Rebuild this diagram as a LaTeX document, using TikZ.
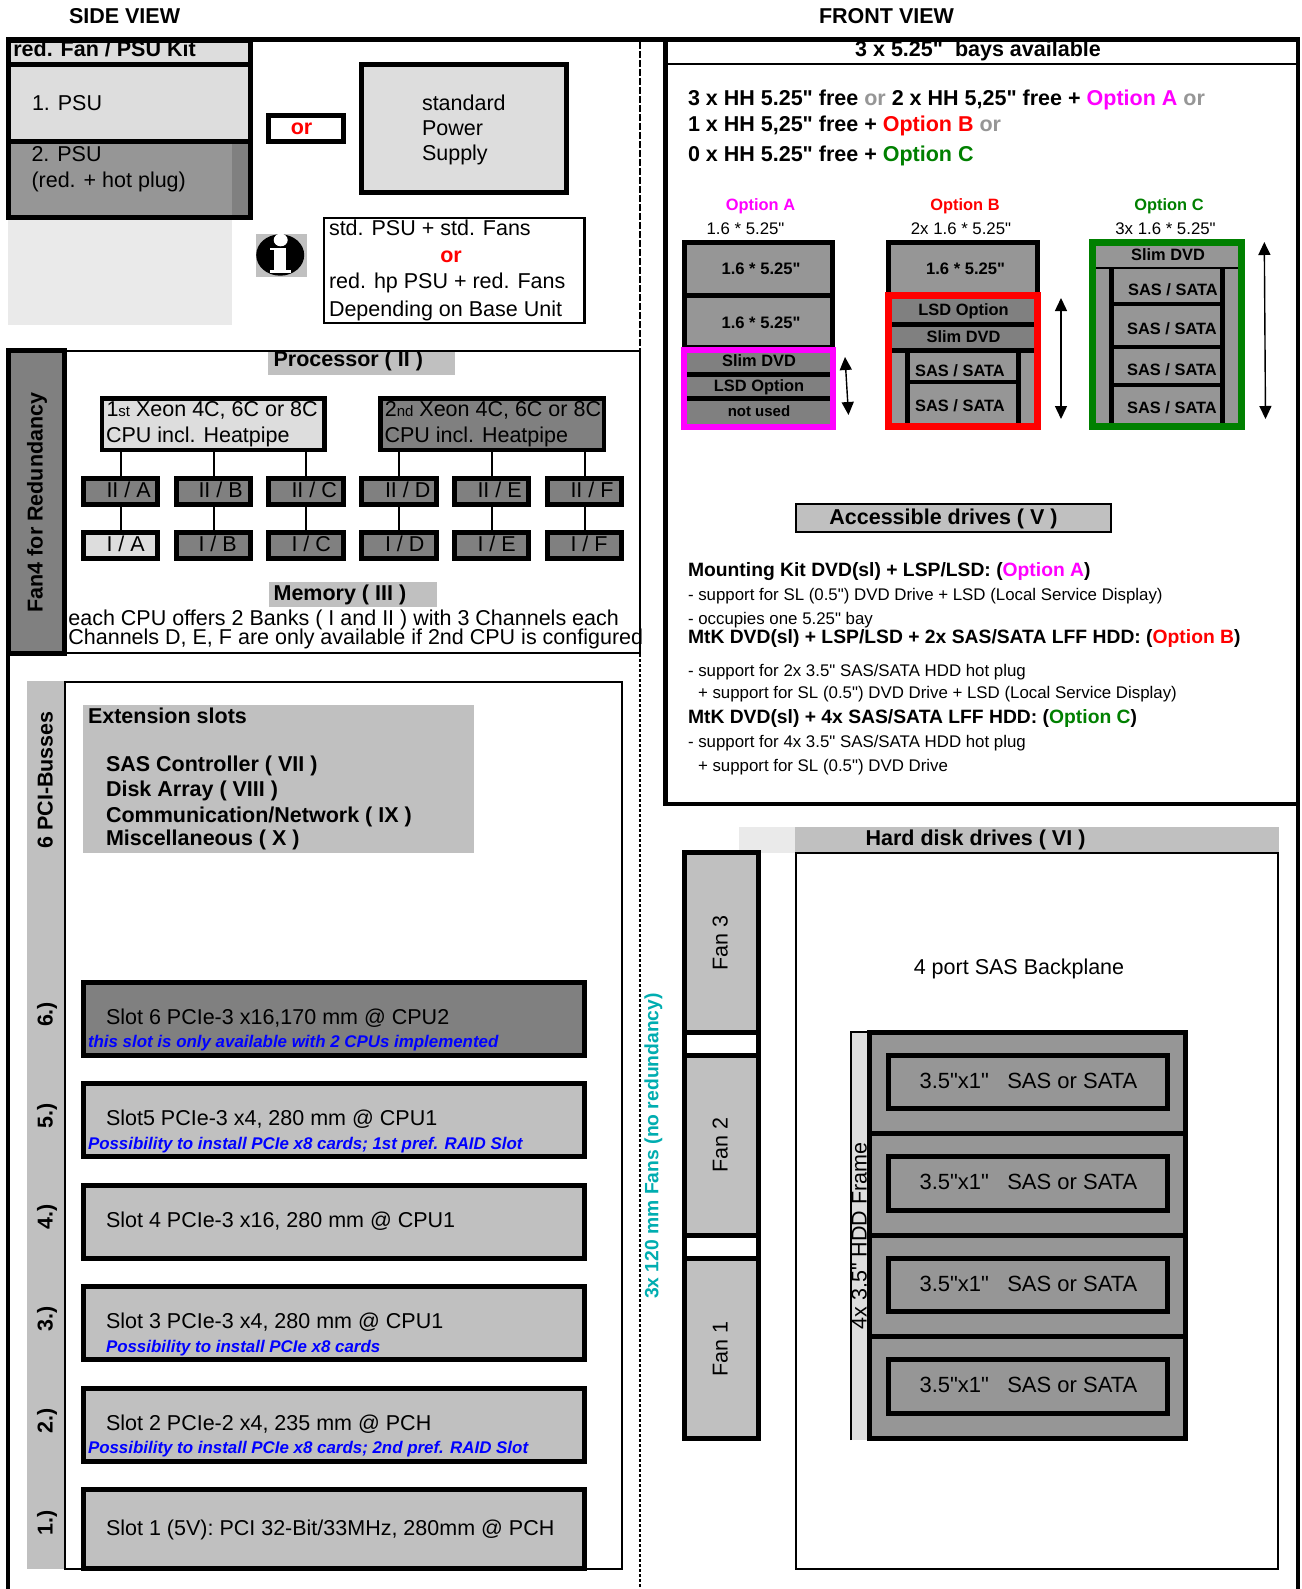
\documentclass[tikz,border=0pt]{standalone}
\usepackage{fontspec}
\newfontfamily\lib{Liberation Sans}
\usetikzlibrary{arrows.meta}
\definecolor{gl}{HTML}{DDDDDD}
\definecolor{gx}{HTML}{EAEAEA}
\definecolor{gm}{HTML}{C0C0C0}
\definecolor{gd}{HTML}{969696}
\definecolor{gk}{HTML}{808080}
\definecolor{optA}{HTML}{FF00FF}
\definecolor{optB}{HTML}{FF0000}
\definecolor{optC}{HTML}{008000}
\definecolor{teal2}{HTML}{00ADB0}
\definecolor{blue2}{HTML}{0000FF}
\newcommand{\fs}[1]{\lib\fontsize{#1}{#1}\selectfont}
\newcounter{tn}
\tikzset{
 boxy/.style={draw=black,inner sep=0pt,outer sep=0pt},
 txt/.style={inner sep=0pt,outer sep=0pt,text=black},
 dbl/.style={line width=1.4pt,{Triangle[width=12pt,length=13pt]}-{Triangle[width=12pt,length=13pt]}},
 link/.style={line width=2pt},
}
% name x1 y1 x2 y2 fill lw : outer edges given
\newcommand{\BX}[7]{\pgfmathsetmacro\cxx{(#2+#4)/2}\pgfmathsetmacro\cyy{(#3+#5)/2}\pgfmathsetmacro\ww{#4-#2-#7}\pgfmathsetmacro\hh{#5-#3-#7}\node[boxy,line width=#7pt,fill=#6,minimum width=\ww pt,minimum height=\hh pt] (#1) at (\cxx,\cyy) {};}
\newcommand{\R}[5]{\fill[#5] (#1,#2) rectangle (#3,#4);}
\newcommand{\TL}[5][]{\stepcounter{tn}\pgfmathsetmacro\yb{#3+0.35*#4}\node[txt,anchor=base west,font={\fs{#4}},#1] (t\arabic{tn}) at (#2,\yb) {#5};}
\newcommand{\TC}[5][]{\stepcounter{tn}\pgfmathsetmacro\yb{#3+0.35*#4}\node[txt,anchor=base,font={\fs{#4}},#1] (t\arabic{tn}) at (#2,\yb) {#5};}
\newcommand{\TR}[5][]{\stepcounter{tn}\pgfmathsetmacro\xb{#2+0.35*#4}\node[txt,anchor=base,rotate=90,font={\fs{#4}},#1] (t\arabic{tn}) at (\xb,#3) {#5};}
\begin{document}
\begin{tikzpicture}[x=1pt,y=-1pt]
\useasboundingbox (0,0) rectangle (1301,1589);
\fill[white] (0,0) rectangle (1301,1589);
% titles
\TL[font={\fs{21.5}\bfseries}]{69}{15.5}{21.5}{SIDE VIEW}
\TL[font={\fs{21.5}\bfseries}]{819}{15.5}{21.5}{FRONT VIEW}
% PSU column
\R{7.5}{220}{232}{325}{gx}
\BX{kit}{6}{38}{253}{66.7}{gl}{4.7}
\TL[font={\fs{21.5}\bfseries}]{13.3}{49}{21.5}{red. Fan / PSU Kit}
\BX{psua}{6}{62}{253}{144}{gl}{4.7}
\BX{psub}{6}{139.3}{253}{220}{gd}{4.7}
\R{232}{144}{248.3}{215.3}{gk}
\TL{32}{103}{21.5}{1. PSU}
\TL{31.5}{153.5}{21.5}{2. PSU}
\TL{31.5}{180}{21.5}{(red. + hot plug)}
\BX{orbox}{266}{113}{346}{144}{white}{4.7}
\TC[font={\fs{21.5}\bfseries}]{301.5}{127.2}{21.5}{\textcolor{optB}{or}}
\BX{stdpsu}{359}{62}{569}{195}{gl}{4.9}
\TL{422}{103}{21.5}{standard}
\TL{422}{128.2}{21.5}{Power}
\TL{422}{153.2}{21.5}{Supply}
% info icon
\R{256}{234}{306.7}{276.7}{gm}
\fill[black] (280.2,255) ellipse [x radius=24,y radius=20.7];
\fill[white] (280.7,240) ellipse [x radius=7,y radius=6.3];
\R{270}{247.7}{286}{250.5}{white}
\R{274.3}{247.7}{285.7}{270.5}{white}
\R{270}{270}{290.7}{272.5}{white}
\BX{note}{323}{217}{585.5}{324}{white}{2.2}
\TL{329}{228}{21.5}{std. PSU + std. Fans}
\TC[font={\fs{21.5}\bfseries}]{451}{255}{21.5}{\textcolor{optB}{or}}
\TL{329}{281}{21.5}{red. hp PSU + red. Fans}
\TL{329}{309}{21.5}{Depending on Base Unit}
% divider
\draw[line width=2pt,dash pattern=on 7pt off 2pt] (640,42) -- (640,350);
\draw[line width=2pt] (640,350) -- (640,654);
\draw[line width=2pt,dash pattern=on 2.5pt off 2.5pt] (640,654) -- (640,1589);
% processor section
\draw[line width=2pt] (67,351) -- (640,351);
\draw[line width=2pt] (67,653) -- (640,653);
\R{268}{352}{455}{374.7}{gm}
\TL[font={\fs{21.5}\bfseries}]{273.6}{359}{21.5}{Processor ( II )}
\BX{cpua}{99.5}{396}{326.7}{452}{gl}{4.5}
\BX{cpub}{378}{396}{606}{452}{gk}{4.5}
\TL{106.5}{409.3}{21.5}{1{\fs{15}st} Xeon 4C, 6C or 8C}
\TL{106}{435}{21.5}{CPU incl. Heatpipe}
\TL{384.8}{409.3}{21.5}{2{\fs{15}nd} Xeon 4C, 6C or 8C}
\TL{384.5}{435}{21.5}{CPU incl. Heatpipe}
\foreach \nm/\xa/\xb/\tx in {A/81/160/106.5,B/174/253/198.5,C/266/346/291.5,D/359/439/385,E/452/531/477.5,F/545/624/570.5}{
 \BX{II\nm}{\xa}{476}{\xb}{506.7}{gk}{4.8}
 \BX{I\nm}{\xa}{530}{\xb}{561}{gk}{4.8}
 \TL{\tx}{489.8}{21.5}{II / \nm}
 \TL{\tx}{543.5}{21.5}{I / \nm}
}
\BX{IA}{81}{530}{160}{561}{gl}{4.8}
\TL{106.5}{543.5}{21.5}{I / A}
\foreach \nm in {A,B,C}{\draw[link] (II\nm.north) -- (II\nm.north |- cpua.south);\draw[link] (I\nm.north) -- (II\nm.south);}
\foreach \nm in {D,E,F}{\draw[link] (II\nm.north) -- (II\nm.north |- cpub.south);\draw[link] (I\nm.north) -- (II\nm.south);}
\R{269}{582}{437}{606.7}{gm}
\TL[font={\fs{21.5}\bfseries}]{273.6}{593.3}{21.5}{Memory ( III )}
\TL{68.4}{618.3}{21.5}{each CPU offers 2 Banks ( I and II ) with 3 Channels each}
\TL{68.4}{637.3}{21.5}{Channels D, E, F are only available if 2nd CPU is configured}
\BX{fanfour}{6}{348}{67}{656}{gk}{4.8}
\TR[font={\fs{21.5}\bfseries}]{35}{502.5}{21.5}{Fan4 for Redundancy}
% extension slots
\R{27}{681}{63.5}{1569}{gm}
\BX{extbox}{63.5}{681}{623}{1570}{white}{2.2}
\TR[font={\fs{21.5}\bfseries}]{45}{780}{21.5}{6 PCI-Busses}
\foreach \lb/\yy in {6/1014.4,5/1116,4/1217,3/1319,2/1420.5,1/1523}{
 \TR[font={\fs{21.5}\bfseries}]{45}{\yy}{21.5}{\lb.)}
}
\R{83}{705}{474}{852.7}{gm}
\TL[font={\fs{21.5}\bfseries}]{88}{715.7}{21.5}{Extension slots}
\TL[font={\fs{21.5}\bfseries}]{106}{763.7}{21.5}{SAS Controller ( VII )}
\TL[font={\fs{21.5}\bfseries}]{106}{789}{21.5}{Disk Array ( VIII )}
\TL[font={\fs{21.5}\bfseries}]{106}{814.7}{21.5}{Communication/Network ( IX )}
\TL[font={\fs{21.5}\bfseries}]{106}{837.7}{21.5}{Miscellaneous ( X )}
\BX{slotsix}{81}{980}{587}{1058}{gk}{5}
\BX{slotfive}{81}{1081}{587}{1159}{gm}{5}
\BX{slotfour}{81}{1183}{587}{1261}{gm}{5}
\BX{slotthree}{81}{1284}{587}{1362}{gm}{5}
\BX{slottwo}{81}{1386}{587}{1464}{gm}{5}
\BX{slotone}{81}{1487}{587}{1570.7}{gm}{5}
\TL{106}{1016.7}{21.5}{Slot 6 PCIe-3 x16,170 mm @ CPU2}
\TL[font={\fs{16.9}\bfseries\itshape},text=blue2]{88}{1041.3}{16.9}{this slot is only available with 2 CPUs implemented}
\TL{106}{1117.7}{21.5}{Slot5 PCIe-3 x4, 280 mm @ CPU1}
\TL[font={\fs{16.9}\bfseries\itshape},text=blue2]{88}{1143.3}{16.9}{Possibility to install PCIe x8 cards; 1st pref. RAID Slot}
\TL{106}{1220}{21.5}{Slot 4 PCIe-3 x16, 280 mm @ CPU1}
\TL{106}{1320.5}{21.5}{Slot 3 PCIe-3 x4, 280 mm @ CPU1}
\TL[font={\fs{16.9}\bfseries\itshape},text=blue2]{106}{1346.5}{16.9}{Possibility to install PCIe x8 cards}
\TL{106}{1422.7}{21.5}{Slot 2 PCIe-2 x4, 235 mm @ PCH}
\TL[font={\fs{16.9}\bfseries\itshape},text=blue2]{88}{1447.5}{16.9}{Possibility to install PCIe x8 cards; 2nd pref. RAID Slot}
\TL{106}{1527.7}{21.5}{Slot 1 (5V): PCI 32-Bit/33MHz, 280mm @ PCH}
\TR[font={\fs{19.3}\bfseries},text=teal2]{651.5}{1146}{19.3}{3x 120 mm Fans (no redundancy)}
% front view top panel
\draw[line width=2pt] (668,64) -- (1296,64);
\TC[font={\fs{21.5}\bfseries}]{978}{49}{21.5}{3 x 5.25"\ \ bays available}
\TL[font={\fs{21.5}\bfseries}]{688}{98}{21.5}{3 x HH 5.25" free \textcolor{gd}{or} 2 x HH 5,25" free + \textcolor{optA}{Option A} \textcolor{gd}{or}}
\TL[font={\fs{21.5}\bfseries}]{688}{124}{21.5}{1 x HH 5,25" free + \textcolor{optB}{Option B} \textcolor{gd}{or}}
\TL[font={\fs{21.5}\bfseries}]{688}{154}{21.5}{0 x HH 5.25" free + \textcolor{optC}{Option C}}
\TC[font={\fs{16.4}\bfseries}]{760.5}{204.3}{16.4}{\textcolor{optA}{Option A}}
\TC[font={\fs{16.4}\bfseries}]{965}{204.3}{16.4}{\textcolor{optB}{Option B}}
\TC[font={\fs{16.4}\bfseries}]{1169}{204.3}{16.4}{\textcolor{optC}{Option C}}
\TC{745.5}{229}{16.8}{1.6 * 5.25"}
\TC{961}{229}{16.8}{2x 1.6 * 5.25"}
\TC{1165.5}{229}{16.8}{3x 1.6 * 5.25"}
% option A
\BX{aone}{682}{240}{835}{298}{gd}{4.8}
\BX{atwo}{682}{293}{835}{350}{gd}{4.8}
\BX{aopt}{681}{347}{836}{430}{gk}{5.6}
\path[draw=optA,line width=5.6pt] (aopt.north west) rectangle (aopt.south east);
\R{687.4}{372.3}{830}{377}{black}
\R{687.4}{396}{830}{401}{black}
\TC[font={\fs{16.6}\bfseries}]{761}{268.3}{16.6}{1.6 * 5.25"}
\TC[font={\fs{16.6}\bfseries}]{761}{322.3}{16.6}{1.6 * 5.25"}
\TC[font={\fs{16.4}\bfseries}]{759}{360.5}{16.4}{Slim DVD}
\TC[font={\fs{16.4}\bfseries}]{759}{385.5}{16.4}{LSD Option}
\TC[font={\fs{15}\bfseries}]{759}{411}{15}{not used}
\coordinate (aarrt) at (845,357);\coordinate (aarrb) at (848.5,415);
\draw[dbl] (aarrt) -- (aarrb);
% option B
\BX{bone}{886}{240}{1039.5}{300}{gd}{4.8}
\R{892}{299}{1034}{423}{gk}
\R{892}{352}{1034}{423}{gd}
\R{892}{322}{1034}{327}{black}
\R{892}{348}{1034}{352.7}{black}
\R{905}{352}{910}{423}{black}
\R{1016}{352}{1021}{423}{black}
\R{910}{380}{1016}{384.3}{black}
\draw[optB,line width=6.6pt] (888.3,295.3) rectangle (1037.7,426.7);
\TC[font={\fs{16.6}\bfseries}]{965.6}{268.3}{16.6}{1.6 * 5.25"}
\TC[font={\fs{16.4}\bfseries}]{963.5}{309.5}{16.4}{LSD Option}
\TC[font={\fs{16.4}\bfseries}]{963.5}{336.3}{16.4}{Slim DVD}
\TC[font={\fs{16.4}\bfseries}]{960}{370.3}{16.4}{SAS / SATA}
\TC[font={\fs{16.4}\bfseries}]{960}{405.3}{16.4}{SAS / SATA}
\coordinate (barrt) at (1061,298);\coordinate (barrb) at (1061,419);
\draw[dbl] (barrt) -- (barrb);
% option C
\R{1095.6}{246}{1238.5}{423.3}{gd}
\R{1095.6}{267}{1238.5}{269}{black}
\R{1109}{267}{1114}{423}{black}
\R{1220}{267}{1225}{423}{black}
\R{1114}{302}{1220}{306}{black}
\R{1114}{345}{1220}{349}{black}
\R{1114}{383}{1220}{387}{black}
\draw[optC,line width=6.7pt] (1092.3,242.4) rectangle (1241.7,426.6);
\TC[font={\fs{16.4}\bfseries}]{1168}{254.3}{16.4}{Slim DVD}
\TC[font={\fs{16.4}\bfseries}]{1173}{289.3}{16.4}{SAS / SATA}
\TC[font={\fs{16.4}\bfseries}]{1172}{328.3}{16.4}{SAS / SATA}
\TC[font={\fs{16.4}\bfseries}]{1172}{369.3}{16.4}{SAS / SATA}
\TC[font={\fs{16.4}\bfseries}]{1172}{407.3}{16.4}{SAS / SATA}
\coordinate (carrt) at (1264.3,242);\coordinate (carrb) at (1265.5,419);
\draw[dbl] (carrt) -- (carrb);
% accessible drives
\BX{access}{795}{503}{1112}{533.3}{gm}{2.2}
\TC[font={\fs{21.5}\bfseries}]{943.5}{516.7}{21.5}{Accessible drives ( V )}
\TL[font={\fs{19.3}\bfseries}]{688}{570}{19.3}{Mounting Kit DVD(sl) + LSP/LSD: (\textcolor{optA}{Option A})}
\TL{688}{594.7}{16.85}{- support for SL (0.5") DVD Drive + LSD (Local Service Display)}
\TL{688}{618.7}{16.85}{- occupies one 5.25" bay}
\TL[font={\fs{19.3}\bfseries}]{688}{636.7}{19.3}{MtK DVD(sl) + LSP/LSD + 2x SAS/SATA LFF HDD: (\textcolor{optB}{Option B})}
\TL{688}{670.7}{16.85}{- support for 2x 3.5" SAS/SATA HDD hot plug}
\TL{698}{693}{16.85}{+ support for SL (0.5") DVD Drive + LSD (Local Service Display)}
\TL[font={\fs{19.3}\bfseries}]{688}{717}{19.3}{MtK DVD(sl) + 4x SAS/SATA LFF HDD: (\textcolor{optC}{Option C})}
\TL{688}{741.7}{16.85}{- support for 4x 3.5" SAS/SATA HDD hot plug}
\TL{698}{765.7}{16.85}{+ support for SL (0.5") DVD Drive}
% hard disks
\R{739}{827}{795}{852.7}{gx}
\R{795}{827}{1279}{852.7}{gm}
\TC[font={\fs{21.5}\bfseries}]{975.5}{837.7}{21.5}{Hard disk drives ( VI )}
\BX{hddbox}{795}{851.5}{1279}{1570}{white}{2.2}
\TC{1019}{966.7}{21.5}{4 port SAS Backplane}
\BX{fanthree}{682}{850}{761}{1035}{gm}{4.8}
\BX{fantwo}{682}{1053}{761}{1238}{gm}{4.8}
\BX{fanone}{682}{1256}{761}{1440.7}{gm}{4.8}
\R{682}{1030}{686.8}{1260}{black}
\R{756.2}{1030}{761}{1260}{black}
\TR{720}{943}{21.5}{Fan 3}
\TR{720}{1145}{21.5}{Fan 2}
\TR{720}{1349}{21.5}{Fan 1}
\R{851}{1032}{870}{1440}{gl}
\draw[line width=2pt] (850.5,1440) -- (850.5,1031.5) -- (868,1031.5);
\TR{859}{1236}{21.5}{4x 3.5" HDD Frame}
\BX{bayone}{867}{1030}{1188}{1135.7}{gd}{4.8}
\BX{baytwo}{867}{1131}{1188}{1238}{gd}{4.8}
\BX{baythree}{867}{1233}{1188}{1338.7}{gd}{4.8}
\BX{bayfour}{867}{1334}{1188}{1441}{gd}{4.8}
\foreach \nm/\ya/\yz/\yt in {a/1052.7/1110.7/1080.7,b/1154/1212.7/1182,c/1256/1314/1284,d/1357/1415.7/1385}{
 \BX{drv\nm}{886}{\ya}{1170}{\yz}{gd}{4.8}
 \TC{1028.4}{\yt}{22}{3.5"x1"\ \ \ SAS or SATA}
}
% frame lines
\R{663}{42}{668}{806}{black}
\R{663}{802}{1300}{806}{black}
\R{1295.5}{37.3}{1300}{1589}{black}
\R{6}{37.3}{10.4}{220}{black}
\R{6}{650}{10.4}{1589}{black}
\R{6}{37.3}{1300}{42}{black}
\end{tikzpicture}
\end{document}
